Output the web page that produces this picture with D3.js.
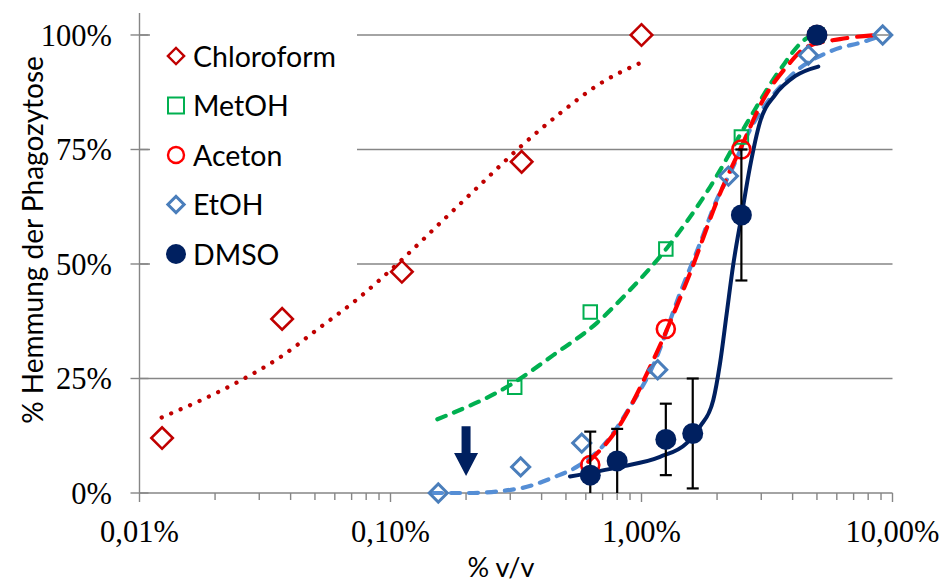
<!DOCTYPE html>
<html>
<head>
<meta charset="utf-8">
<script src="https://cdn.jsdelivr.net/npm/d3@7"></script>
<style>
  html, body { margin: 0; padding: 0; background: #fff; }
  svg { display: block; }
</style>
</head>
<body>
<svg id="chart" width="944" height="585"></svg>
<script>
// Concentrations in % v/v, inhibition in %
const chloroConc  = [0.0123, 0.037, 0.111, 0.333, 1.0];
const chloroInhib = [12.0, 38.0, 48.3, 72.3, 100];
const chloroTrendConc  = [0.01226, 0.02475, 0.0374, 0.0508, 0.0744, 0.1074, 0.1623, 0.2309, 0.328, 0.4736, 0.694, 0.980];
const chloroTrendInhib = [16.5, 24.3, 30.1, 35.6, 42.5, 50.2, 59.6, 67.6, 75.5, 82.9, 89.6, 93.8];

const metConc  = [0.3125, 0.625, 1.25, 2.5, 5.0];
const metInhib = [23.1, 39.5, 53.3, 77.7, 100];
const metTrendConc  = [0.1537, 0.3085, 0.4453, 0.663, 0.86, 1.263, 1.875, 2.632, 3.562, 4.564, 5.0];
const metTrendInhib = [16.1, 24.0, 30.1, 37.1, 43.2, 53.5, 66.8, 80.8, 92.4, 99.3, 100];

const acetConc  = [0.625, 1.25, 2.5, 5.0];
const acetInhib = [6.1, 35.8, 75.0, 100];
const acetTrendConc  = [0.614, 0.796, 1.114, 1.561, 2.055, 2.537, 3.049, 3.789, 4.552, 6.177, 8.65];
const acetTrendInhib = [6.8, 13.8, 29.0, 48.0, 65.4, 76.4, 85.8, 93.1, 97.4, 99.1, 100];

const etConc  = [0.155, 0.33, 0.578, 1.16, 2.22, 4.62, 9.14];
const etInhib = [0, 5.7, 10.9, 26.9, 69.2, 95.6, 100];
const etTrendConc  = [0.1477, 0.2012, 0.328, 0.4453, 0.5518, 0.7266, 0.900, 1.114, 1.4236, 1.711, 1.993, 2.252, 2.705, 3.905, 5.808, 7.65, 9.14];
const etTrendInhib = [0, 0, 1.0, 3.4, 5.7, 11.2, 18.8, 27.9, 43.6, 54.5, 64.0, 69.8, 79.3, 90.9, 96.7, 98.5, 100];

const dmsoConc  = [0.625, 0.8, 1.25, 1.6, 2.5, 5.0];
const dmsoInhib = [3.9, 7.0, 11.7, 13.0, 60.7, 100];
const dmsoErr   = [9.5, 7.0, 7.8, 12.0, 14.3, 0];
const dmsoTrendConc  = [0.519, 0.821, 1.185, 1.514, 1.711, 1.932, 2.055, 2.185, 2.315, 2.507, 2.705, 2.966, 3.403, 4.089, 5.063];
const dmsoTrendInhib = [3.6, 5.7, 7.9, 10.9, 14.5, 20.3, 28.3, 39.2, 49.5, 60.7, 71.2, 81.0, 86.9, 91.0, 93.1];

// Marker for the threshold concentration
const arrowConc = 0.2;
const arrowFrom = 14.6;
const arrowTo   = 3.7;

const xTickValues = [0.01, 0.1, 1, 10];
const xTickLabels = ["0,01%", "0,10%", "1,00%", "10,00%"];
const yTickValues = [0, 25, 50, 75, 100];
const yTickLabels = ["0%", "25%", "50%", "75%", "100%"];

const legendNames = ["Chloroform", "MetOH", "Aceton", "EtOH", "DMSO"];

const C = {
  chloro: "#C00000", met: "#00B050", acet: "#FF0000",
  etMarker: "#4A7EBB", etLine: "#558ED5", dmso: "#002060",
  grid: "#868686"
};

const svg = d3.select("#chart");
const x = d3.scaleLog().domain([0.01, 10]).range([139.5, 892.5]);
const y = d3.scaleLinear().domain([0, 104.8]).range([493, 13]);
const zip = (a, b) => a.map((v, i) => [v, b[i]]);

// Horizontal gridlines
svg.append("g").selectAll("line")
  .data(yTickValues.filter(v => v > 0)).join("line")
  .attr("x1", x(0.01)).attr("x2", x(10))
  .attr("y1", d => y(d)).attr("y2", d => y(d))
  .attr("stroke", C.grid).attr("stroke-width", 1.4);

// Y axis
const yAxis = svg.append("g");
yAxis.append("line").attr("x1", x(0.01)).attr("x2", x(0.01))
  .attr("y1", y(104.8)).attr("y2", y(0)).attr("stroke", C.grid).attr("stroke-width", 1.4);
yAxis.selectAll("line.tick").data(yTickValues).join("line").attr("class", "tick")
  .attr("x1", x(0.01) - 9).attr("x2", x(0.01) + 9)
  .attr("y1", d => y(d)).attr("y2", d => y(d))
  .attr("stroke", C.grid).attr("stroke-width", 1.4);
yAxis.selectAll("text").data(yTickValues).join("text")
  .attr("x", 112).attr("y", d => y(d) + 11)
  .attr("text-anchor", "end")
  .attr("font-family", "'Liberation Serif', serif").attr("font-size", 30.5)
  .attr("fill", "#000")
  .text((d, i) => yTickLabels[i]);

// X axis (log, with minor ticks)
const xAxis = svg.append("g");
xAxis.append("line").attr("x1", x(0.01)).attr("x2", x(10))
  .attr("y1", y(0)).attr("y2", y(0)).attr("stroke", C.grid).attr("stroke-width", 1.4);
const minor = [];
[0.01, 0.1, 1].forEach(dec => { for (let k = 2; k <= 9; k++) minor.push(dec * k); });
xAxis.selectAll("line.minor").data(minor).join("line").attr("class", "minor")
  .attr("x1", d => x(d)).attr("x2", d => x(d))
  .attr("y1", y(0)).attr("y2", y(0) + 7)
  .attr("stroke", C.grid).attr("stroke-width", 1.4);
xAxis.selectAll("line.major").data(xTickValues).join("line").attr("class", "major")
  .attr("x1", d => x(d)).attr("x2", d => x(d))
  .attr("y1", y(0)).attr("y2", y(0) + 9)
  .attr("stroke", C.grid).attr("stroke-width", 1.4);
xAxis.selectAll("text").data(xTickValues).join("text")
  .attr("x", d => x(d)).attr("y", 542)
  .attr("text-anchor", "middle")
  .attr("font-family", "'Liberation Serif', serif").attr("font-size", 30.5)
  .attr("fill", "#000")
  .text((d, i) => xTickLabels[i]);

// Axis titles
svg.append("text").attr("x", 501).attr("y", 577).attr("text-anchor", "middle")
  .attr("font-family", "Lato, sans-serif").attr("font-size", 27).attr("fill", "#000")
  .text("% v/v");
svg.append("text").attr("transform", "translate(43,240) rotate(-90)")
  .attr("text-anchor", "middle")
  .attr("font-family", "Lato, sans-serif").attr("font-size", 28).attr("fill", "#000")
  .text("% Hemmung der Phagozytose");

// Trend lines
const line = d3.line().x(d => x(d[0])).y(d => y(d[1])).curve(d3.curveMonotoneX);
const trends = svg.append("g").attr("fill", "none").attr("stroke-linecap", "round");
trends.append("path").attr("d", line(zip(chloroTrendConc, chloroTrendInhib)))
  .attr("stroke", C.chloro).attr("stroke-width", 4.3).attr("stroke-dasharray", "0.01 10.3");
trends.append("path").attr("d", line(zip(metTrendConc, metTrendInhib)))
  .attr("stroke", C.met).attr("stroke-width", 4.2).attr("stroke-dasharray", "9 9");
trends.append("path").attr("d", line(zip(etTrendConc, etTrendInhib)))
  .attr("stroke", C.etLine).attr("stroke-width", 4.2).attr("stroke-dasharray", "9 9");
trends.append("path").attr("d", line(zip(acetTrendConc, acetTrendInhib)))
  .attr("stroke", C.acet).attr("stroke-width", 4.2).attr("stroke-dasharray", "15 10");
trends.append("path").attr("d", line(zip(dmsoTrendConc, dmsoTrendInhib)))
  .attr("stroke", C.dmso).attr("stroke-width", 4);

// Arrow marking the threshold concentration
const ax = x(arrowConc), aTop = y(arrowFrom), aTip = y(arrowTo);
svg.append("path")
  .attr("d", `M${ax - 4.5},${aTop} L${ax + 4.5},${aTop} L${ax + 4.5},${aTip - 23} L${ax + 12},${aTip - 23} L${ax},${aTip} L${ax - 12},${aTip - 23} L${ax - 4.5},${aTip - 23} Z`)
  .attr("fill", C.dmso);

// Markers
const diamond = side => d3.symbol().type(d3.symbolSquare).size(side * side)();
const marks = svg.append("g");
marks.selectAll("path.chloro").data(zip(chloroConc, chloroInhib)).join("path").attr("class", "chloro")
  .attr("d", diamond(15.2))
  .attr("transform", d => `translate(${x(d[0])},${y(d[1])}) rotate(45)`)
  .attr("fill", "#fff").attr("stroke", C.chloro).attr("stroke-width", 2.6);
marks.selectAll("path.met").data(zip(metConc, metInhib)).join("path").attr("class", "met")
  .attr("d", diamond(13.5))
  .attr("transform", d => `translate(${x(d[0])},${y(d[1])})`)
  .attr("fill", "none").attr("stroke", C.met).attr("stroke-width", 2);
marks.selectAll("circle.acet").data(zip(acetConc, acetInhib)).join("circle").attr("class", "acet")
  .attr("cx", d => x(d[0])).attr("cy", d => y(d[1])).attr("r", 9)
  .attr("fill", "none").attr("stroke", C.acet).attr("stroke-width", 2.6);
marks.selectAll("path.et").data(zip(etConc, etInhib)).join("path").attr("class", "et")
  .attr("d", diamond(12.8))
  .attr("transform", d => `translate(${x(d[0])},${y(d[1])}) rotate(45)`)
  .attr("fill", "none").attr("stroke", C.etMarker).attr("stroke-width", 3);

// DMSO error bars (clipped at the axis) and points
const dmso = dmsoConc.map((c, i) => ({ c, v: dmsoInhib[i], e: dmsoErr[i] }));
const eb = svg.append("g").attr("stroke", "#000").attr("stroke-width", 2.2);
dmso.filter(d => d.e > 0).forEach(d => {
  const lo = Math.max(0, d.v - d.e), hi = d.v + d.e, cx = x(d.c);
  eb.append("line").attr("x1", cx).attr("x2", cx).attr("y1", y(lo)).attr("y2", y(hi));
  eb.append("line").attr("x1", cx - 6).attr("x2", cx + 6).attr("y1", y(hi)).attr("y2", y(hi));
  if (d.v - d.e > 0) eb.append("line").attr("x1", cx - 6).attr("x2", cx + 6).attr("y1", y(lo)).attr("y2", y(lo));
});
svg.append("g").selectAll("circle").data(dmso).join("circle")
  .attr("cx", d => x(d.c)).attr("cy", d => y(d.v)).attr("r", 10.5)
  .attr("fill", C.dmso);

// Legend
const lg = svg.append("g");
lg.append("rect").attr("x", 150).attr("y", 12).attr("width", 207).attr("height", 270).attr("fill", "#fff");
const legendY = [56, 105.5, 155, 204.5, 254];
const lx = 176;
lg.append("path").attr("d", diamond(11.5)).attr("transform", `translate(${lx},${legendY[0]}) rotate(45)`)
  .attr("fill", "none").attr("stroke", C.chloro).attr("stroke-width", 2.4);
lg.append("path").attr("d", diamond(16)).attr("transform", `translate(${lx},${legendY[1]})`)
  .attr("fill", "none").attr("stroke", C.met).attr("stroke-width", 2);
lg.append("circle").attr("cx", lx).attr("cy", legendY[2]).attr("r", 8)
  .attr("fill", "none").attr("stroke", C.acet).attr("stroke-width", 2.4);
lg.append("path").attr("d", diamond(11.5)).attr("transform", `translate(${lx},${legendY[3]}) rotate(45)`)
  .attr("fill", "none").attr("stroke", C.etMarker).attr("stroke-width", 3);
lg.append("circle").attr("cx", lx).attr("cy", legendY[4]).attr("r", 10).attr("fill", C.dmso);
lg.selectAll("text").data(legendNames).join("text")
  .attr("x", 193).attr("y", (d, i) => legendY[i] + 10.5)
  .attr("font-family", "Lato, sans-serif").attr("font-size", 28.5).attr("fill", "#000")
  .text(d => d);
</script>
</body>
</html>
